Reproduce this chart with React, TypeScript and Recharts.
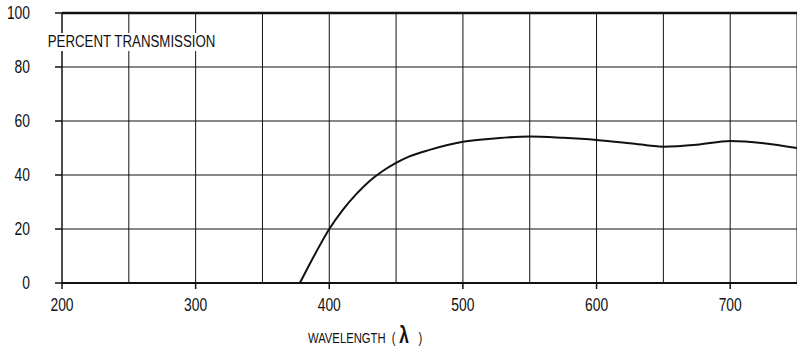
import React from 'react';
import {
  LineChart,
  Line,
  XAxis,
  YAxis,
  CartesianGrid,
  ReferenceLine
} from 'recharts';

// wavelength (nm) and percent transmission
const wavelengths = [378, 390, 400, 410, 420, 430, 440, 450, 460, 475, 500, 525, 550, 575, 600, 625, 650, 675, 700, 725, 750];
const transmission = [0, 11.3, 20, 27, 32.8, 37.7, 41.5, 44.5, 46.9, 49.3, 52.3, 53.6, 54.3, 53.8, 53, 51.8, 50.5, 51.2, 52.6, 51.8, 50];

const xTicks = [200, 300, 400, 500, 600, 700];
const xGrid = [250, 300, 350, 400, 450, 500, 550, 600, 650, 700, 750];
const yTicks = [0, 20, 40, 60, 80, 100];

const FONT = '"Liberation Sans", Arial, sans-serif';
const INK = '#111';

if (typeof document !== 'undefined') {
  document.body.style.margin = '0';
  document.body.style.overflow = 'hidden';
}

const data = wavelengths.map((w, i) => ({ w, t: transmission[i] }));

// the original lettering is tall and narrow, so squeeze it horizontally
const XTick = ({ x, y, payload }: any) => (
  <g transform={`translate(${x},${y})`}>
    <text transform="scale(0.77,1)" textAnchor="middle" dy="0.71em" fontSize={18} fontFamily={FONT} fill={INK}>
      {payload.value}
    </text>
  </g>
);

const YTick = ({ x, y, payload }: any) => (
  <g transform={`translate(${x},${y})`}>
    <text transform="scale(0.77,1)" textAnchor="end" dy="0.355em" fontSize={18} fontFamily={FONT} fill={INK}>
      {payload.value}
    </text>
  </g>
);

const App: React.FC = () => {
  return (
    <div style={{ position: 'relative', width: 797, height: 353, background: '#fff', fontFamily: FONT }}>
      <LineChart
        width={797}
        height={353}
        data={data}
        margin={{ top: 13, right: 0, bottom: 40, left: 0 }}
      >
        <CartesianGrid vertical={false} stroke={INK} strokeWidth={1} />
        {xGrid.map(v => (
          <ReferenceLine key={v} x={v} stroke={INK} strokeWidth={1} />
        ))}
        <ReferenceLine y={100} stroke={INK} strokeWidth={2.5} />
        <XAxis
          dataKey="w"
          type="number"
          domain={[200, 750]}
          ticks={xTicks}
          allowDataOverflow
          height={30}
          tickSize={6}
          tickMargin={9}
          axisLine={{ stroke: INK, strokeWidth: 2 }}
          tickLine={{ stroke: INK, strokeWidth: 1.5 }}
          tick={<XTick />}
        />
        <YAxis
          type="number"
          domain={[0, 100]}
          ticks={yTicks}
          width={62}
          tickSize={7}
          tickMargin={25}
          axisLine={{ stroke: INK, strokeWidth: 1.5 }}
          tickLine={{ stroke: INK, strokeWidth: 1.5 }}
          tick={<YTick />}
        />
        <Line
          dataKey="t"
          type="monotone"
          stroke={INK}
          strokeWidth={2}
          dot={false}
          isAnimationActive={false}
        />
      </LineChart>
      <div
        style={{
          position: 'absolute',
          left: 46,
          top: 33,
          padding: '0 2px',
          background: '#fff',
          fontSize: 16,
          lineHeight: '18px',
          color: INK,
          whiteSpace: 'nowrap',
          transform: 'scaleX(0.83)',
          transformOrigin: 'left center'
        }}
      >
        PERCENT TRANSMISSION
      </div>
      <div
        style={{
          position: 'absolute',
          left: 308,
          top: 325,
          fontSize: 15,
          lineHeight: '20px',
          color: INK,
          whiteSpace: 'nowrap',
          transform: 'scaleX(0.75)',
          transformOrigin: 'left center'
        }}
      >
        WAVELENGTH <span style={{ marginLeft: 4 }}>(</span>
        <span style={{ fontSize: 23, fontWeight: 'bold', margin: '0 5px' }}>λ</span>
        <span style={{ marginLeft: 8 }}>)</span>
      </div>
    </div>
  );
};

export default App;
